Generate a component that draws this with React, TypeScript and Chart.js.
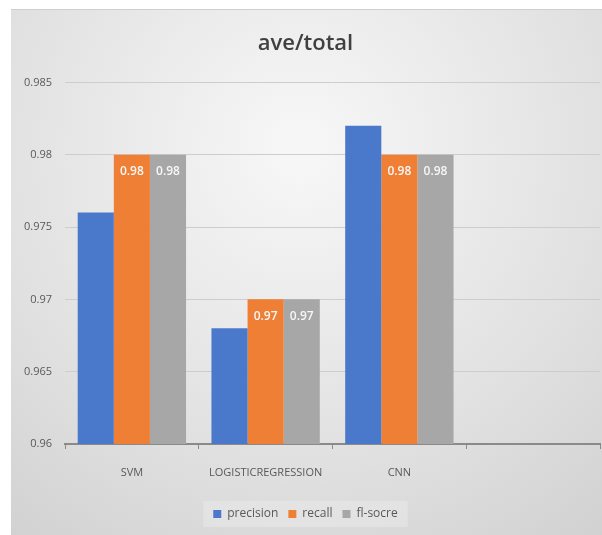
import React, { useEffect, useRef } from "react";
import { Chart, registerables } from "chart.js";
Chart.register(...registerables);

const categories = ["SVM", "LOGISTICREGRESSION", "CNN", ""];
const seriesNames = ["precision", "recall", "fl-socre"];
const precisionValues = [0.976, 0.968, 0.982, null];
const recallValues = [0.98, 0.97, 0.98, null];
const f1Values = [0.98, 0.97, 0.98, null];
const yTickValues = [0.96, 0.965, 0.97, 0.975, 0.98, 0.985];
const titleText = "ave/total";
const seriesColors = ["#4a78cb", "#ee7f35", "#a7a7a7"];
const labelledSeries = [1, 2];

const FONT = "'Open Sans', 'DejaVu Sans', sans-serif";

const bgPlugin = {
  id: "bgPlugin",
  beforeDraw(chart: any) {
    const { ctx, width, height } = chart;
    ctx.save();
    const g = ctx.createRadialGradient(290, 140, 20, 290, 140, 560);
    g.addColorStop(0, "#f6f6f6");
    g.addColorStop(0.55, "#e0e0e0");
    g.addColorStop(1, "#cbcbcb");
    ctx.fillStyle = g;
    ctx.fillRect(0, 0, width, height);
    ctx.fillStyle = "#cfcfcf";
    ctx.fillRect(0, 0, width, 1);
    const lg = chart.legend;
    if (lg && lg.legendHitBoxes && lg.legendHitBoxes.length) {
      const hb = lg.legendHitBoxes;
      let l = Infinity, r = -Infinity, t = Infinity, b = -Infinity;
      hb.forEach((h: any) => {
        l = Math.min(l, h.left);
        r = Math.max(r, h.left + h.width);
        t = Math.min(t, h.top);
        b = Math.max(b, h.top + h.height);
      });
      ctx.fillStyle = "rgba(255,255,255,0.22)";
      ctx.fillRect(l - 10, t - 7, r - l + 20, b - t + 14);
    }
    ctx.restore();
  },
};

const labelPlugin = {
  id: "labelPlugin",
  afterDatasetsDraw(chart: any) {
    const { ctx } = chart;
    ctx.save();
    ctx.fillStyle = "#f7f7f7";
    ctx.font = `600 12px ${FONT}`;
    ctx.textAlign = "center";
    ctx.textBaseline = "middle";
    labelledSeries.forEach((di) => {
      const meta = chart.getDatasetMeta(di);
      const data = chart.data.datasets[di].data;
      meta.data.forEach((el: any, i: number) => {
        const v = data[i];
        if (v == null) return;
        ctx.fillText(Number(v).toFixed(2), el.x, el.y + 17);
      });
    });
    ctx.restore();
  },
};

export default function App() {
  const ref = useRef<HTMLCanvasElement | null>(null);
  useEffect(() => {
    if (!ref.current) return;
    const chart = new Chart(ref.current, {
      type: "bar",
      data: {
        labels: categories,
        datasets: [precisionValues, recallValues, f1Values].map((d, i) => ({
          label: seriesNames[i],
          data: d,
          backgroundColor: seriesColors[i],
          borderWidth: 0,
          categoryPercentage: 0.81,
          barPercentage: 1,
        })),
      },
      options: {
        animation: false,
        responsive: false,
        devicePixelRatio: 1,
        layout: { padding: { left: 0, right: 2, top: 0, bottom: 5 } },
        plugins: {
          title: {
            display: true,
            text: titleText,
            color: "#404040",
            font: { family: FONT, size: 22, weight: "600", lineHeight: 1.2 },
            padding: { top: 22, bottom: 25 },
          },
          legend: {
            position: "bottom",
            labels: {
              boxWidth: 8,
              boxHeight: 8,
              padding: 10,
              color: "#595959",
              font: { family: FONT, size: 12 },
            },
          },
          tooltip: { enabled: false },
        },
        scales: {
          x: {
            offset: true,
            grid: {
              offset: true,
              drawOnChartArea: false,
              drawTicks: true,
              tickLength: 5,
              color: "#8a8a8a",
              lineWidth: 1,
            },
            border: { display: true, color: "#8a8a8a", width: 2 },
            ticks: {
              color: "#595959",
              font: { family: FONT, size: 11 },
              padding: 17,
              maxRotation: 0,
              autoSkip: false,
            },
            afterFit: (s: any) => {
              s.height = 54;
            },
          },
          y: {
            min: 0.96,
            max: 0.985,
            afterBuildTicks: (s: any) => {
              s.ticks = yTickValues.map((v) => ({ value: v }));
            },
            grid: { drawTicks: false, color: "#cdcdcd", lineWidth: 1 },
            border: { display: false },
            ticks: {
              color: "#595959",
              font: { family: FONT, size: 11 },
              padding: 13,
              callback: (v: any) => String(+Number(v).toFixed(3)),
            },
            afterFit: (s: any) => {
              s.width = 54;
            },
          },
        },
      },
      plugins: [bgPlugin, labelPlugin],
    } as any);
    return () => chart.destroy();
  }, []);
  return (
    <div style={{ position: "absolute", left: 11, top: 9, width: 591, height: 526 }}>
      <canvas ref={ref} width={591} height={526} />
    </div>
  );
}
